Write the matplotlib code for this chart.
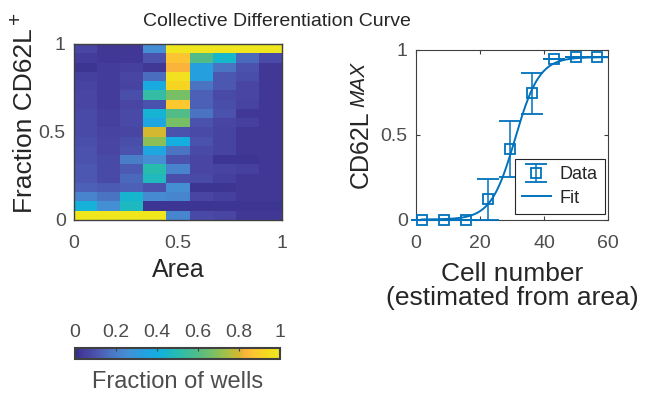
import numpy as np
import matplotlib
matplotlib.use("Agg")
import matplotlib.pyplot as plt
from matplotlib.colors import LinearSegmentedColormap, Normalize
from matplotlib.colorbar import ColorbarBase

plt.rcParams['font.family'] = ['Liberation Sans', 'DejaVu Sans']

# ---------------- data ----------------
# heatmap: rows = fraction CD62L+ bins (top row = 1 ... bottom row = 0), cols = area bins (0 ... 1)
area_ticks = [0, 0.5, 1]
fraction_ticks = [0, 0.5, 1]
row1 = [0.07, 0.03, 0.03, 0.25, 1.00, 1.00, 1.00, 1.00, 1.00]
row2 = [0.04, 0.03, 0.03, 0.10, 0.87, 0.60, 0.45, 0.15, 0.08]
row3 = [0.02, 0.04, 0.05, 0.03, 0.83, 0.33, 0.17, 0.10, 0.03]
row4 = [0.05, 0.04, 0.07, 0.16, 0.96, 0.33, 0.11, 0.09, 0.03]
row5 = [0.06, 0.04, 0.06, 0.38, 0.92, 0.17, 0.11, 0.07, 0.03]
row6 = [0.07, 0.04, 0.09, 0.53, 0.67, 0.13, 0.08, 0.07, 0.03]
row7 = [0.07, 0.04, 0.07, 0.10, 0.88, 0.13, 0.09, 0.06, 0.03]
row8 = [0.08, 0.05, 0.08, 0.43, 0.60, 0.17, 0.10, 0.03, 0.03]
row9 = [0.08, 0.05, 0.08, 0.36, 0.67, 0.10, 0.07, 0.05, 0.03]
row10 = [0.08, 0.06, 0.07, 0.80, 0.10, 0.08, 0.06, 0.03, 0.03]
row11 = [0.09, 0.07, 0.09, 0.70, 0.40, 0.10, 0.06, 0.03, 0.03]
row12 = [0.10, 0.07, 0.10, 0.36, 0.17, 0.08, 0.06, 0.03, 0.03]
row13 = [0.10, 0.08, 0.20, 0.25, 0.10, 0.07, 0.02, 0.02, 0.03]
row14 = [0.11, 0.08, 0.12, 0.50, 0.22, 0.07, 0.06, 0.05, 0.03]
row15 = [0.11, 0.08, 0.15, 0.48, 0.09, 0.08, 0.05, 0.03, 0.03]
row16 = [0.13, 0.12, 0.13, 0.10, 0.25, 0.02, 0.02, 0.03, 0.03]
row17 = [0.22, 0.17, 0.44, 0.24, 0.23, 0.07, 0.05, 0.03, 0.03]
row18 = [0.42, 0.26, 0.47, 0.02, 0.02, 0.02, 0.02, 0.02, 0.02]
row19 = [1.00, 1.00, 1.00, 1.00, 0.23, 0.08, 0.07, 0.03, 0.03]
heat_rows = [row1, row2, row3, row4, row5, row6, row7, row8, row9, row10,
             row11, row12, row13, row14, row15, row16, row17, row18, row19]

# differentiation curve
cell_number = [1.8, 8.7, 15.5, 22.6, 29.3, 36.1, 43.2, 49.9, 56.7]
cd62l_max = [0.0, 0.0, 0.0, 0.118, 0.413, 0.742, 0.943, 0.953, 0.953]
cd62l_err = [0.0, 0.0, 0.0, 0.118, 0.165, 0.120, 0.0, 0.0, 0.0]
# fitted logistic parameters
fit_top, fit_mid, fit_scale = 0.955, 31.0, 3.77
colorbar_ticks = [0, 0.2, 0.4, 0.6, 0.8, 1]

# ---------------- style ----------------
# parula-like colormap (as printed in the reference)
cmap_pts = [
    (0.00, '#2f2c88'), (0.03, '#433a98'), (0.08, '#4a4aa8'), (0.12, '#4c5cb4'),
    (0.17, '#4a74c2'), (0.25, '#468ed4'), (0.33, '#26a0e0'), (0.40, '#14aee0'),
    (0.45, '#18b6cc'), (0.50, '#28bcb0'), (0.60, '#52bc88'), (0.68, '#7cc060'),
    (0.74, '#a8c048'), (0.80, '#d4b830'), (0.83, '#fbb43c'), (0.88, '#fdc830'),
    (0.93, '#f5d820'), (0.97, '#f0e420'), (1.00, '#f0e61e')]
parula = LinearSegmentedColormap.from_list('parula_print', cmap_pts, N=256)

BLUE = '#0072BD'
AXC = '#404040'
TICKC = '#4d4d4d'
LABC = '#262626'

W, H = 659, 396
fig = plt.figure(figsize=(W / 100, H / 100), dpi=100)

def box(l, t, r, b):
    return [l / W, 1 - b / H, (r - l) / W, (b - t) / H]

# ---------------- heatmap ----------------
ax1 = fig.add_axes(box(74, 44, 282, 220))
ax1.imshow(np.array(heat_rows), cmap=parula, vmin=0, vmax=1, aspect='auto',
           extent=[0, 1, 0, 1], origin='upper', interpolation='nearest')
ax1.set_xlim(0, 1)
ax1.set_ylim(0, 1)
ax1.set_xticks(area_ticks)
ax1.set_xticklabels(['0', '0.5', '1'])
ax1.set_yticks(fraction_ticks)
ax1.set_yticklabels(['0', '0.5', '1'])
ax1.tick_params(axis='x', length=0, pad=11, labelsize=14, labelcolor=TICKC)
ax1.tick_params(axis='y', length=0, pad=6, labelsize=14, labelcolor=TICKC)
for s in ax1.spines.values():
    s.set_color(AXC)
    s.set_linewidth(1.0)
ax1.set_xlabel('Area', fontsize=18, color=LABC, labelpad=4)
fig.text(25 / W, 1 - 213 / H, 'Fraction CD62L', rotation=90, ha='center',
         va='bottom', fontsize=19, color=LABC)
fig.text(15 / W, 1 - 18 / H, '+', rotation=90, ha='center', va='center',
         fontsize=15, color=LABC)

# ---------------- curve ----------------
ax2 = fig.add_axes(box(416, 49.5, 608, 219.5))
xf = np.linspace(cell_number[0], 60, 300)
yf = fit_top / (1 + np.exp(-(xf - fit_mid) / fit_scale))
h_data = ax2.errorbar(cell_number, cd62l_max, yerr=cd62l_err, fmt='s', mfc='none',
                      mec=BLUE, ms=7, mew=1.3, ecolor=BLUE, elinewidth=1.1, capsize=8,
                      capthick=1.1, color=BLUE, clip_on=False, zorder=3)
h_fit, = ax2.plot(xf, yf, color=BLUE, lw=1.4, zorder=2)
ax2.set_xlim(0, 60)
ax2.set_ylim(0, 1)
ax2.set_xticks([0, 20, 40, 60])
ax2.set_yticks([0, 0.5, 1])
ax2.set_yticklabels(['0', '0.5', '1'])
ax2.tick_params(direction='in', length=3, width=0.8, color=AXC, top=True, right=True,
                labelsize=14, labelcolor=TICKC)
ax2.tick_params(axis='x', pad=11)
ax2.tick_params(axis='y', pad=6)
for s in ax2.spines.values():
    s.set_color(AXC)
    s.set_linewidth(0.8)
leg = ax2.legend([h_data, h_fit], ['Data', 'Fit'], loc='lower right',
                 bbox_to_anchor=(1 - 3 / 192, 5.5 / 170), borderaxespad=0, fontsize=13,
                 fancybox=False, framealpha=1, edgecolor=LABC, handlelength=1.6,
                 handletextpad=0.5, borderpad=0.4, labelspacing=0.35)
leg.get_frame().set_linewidth(0.8)
for t in leg.get_texts():
    t.set_color(LABC)
fig.text(512 / W, 1 - 281 / H, 'Cell number', ha='center', va='baseline',
         fontsize=19, color=LABC)
fig.text(512 / W, 1 - 305 / H, '(estimated from area)', ha='center', va='baseline',
         fontsize=19, color=LABC)
fig.text(361 / W, 1 - 188 / H, 'CD62L', rotation=90, ha='center',
         va='bottom', fontsize=18, color=LABC)
fig.text(359 / W, 1 - 107 / H, 'MAX', rotation=90, ha='center', style='italic',
         va='bottom', fontsize=15, color=LABC)

fig.text(277 / W, 1 - 22 / H, 'Collective Differentiation Curve', ha='center',
         va='center', fontsize=14, color=LABC)

# ---------------- colorbar ----------------
cax = fig.add_axes(box(75, 348, 280, 359))
cb = ColorbarBase(cax, cmap=parula, norm=Normalize(0, 1), orientation='horizontal',
                  ticks=colorbar_ticks)
cb.ax.xaxis.set_ticks_position('top')
cb.ax.xaxis.set_label_position('bottom')
cb.set_ticklabels(['0', '0.2', '0.4', '0.6', '0.8', '1'])
cb.ax.tick_params(direction='in', length=2.5, width=0.8, color=AXC, labelsize=14,
                  labelcolor=TICKC, pad=5)
cb.outline.set_edgecolor(AXC)
cb.outline.set_linewidth(1.5)
cb.set_label('Fraction of wells', fontsize=17, color=TICKC, labelpad=9)

fig.savefig('out.png', dpi=100)
